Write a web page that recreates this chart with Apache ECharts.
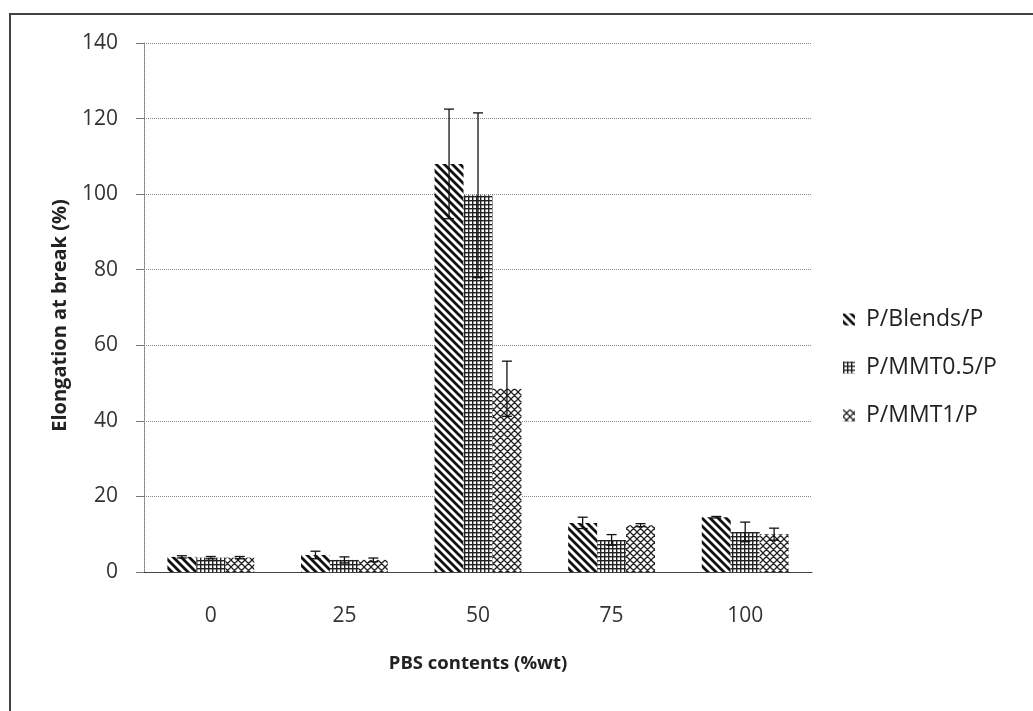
<!DOCTYPE html>
<html>
<head>
<meta charset="utf-8">
<script src="https://cdn.jsdelivr.net/npm/echarts@6/dist/echarts.min.js"></script>
<style>
html,body{margin:0;padding:0;background:#fff;}
#chart{width:1033px;height:711px;}
</style>
</head>
<body>
<div id="chart"></div>
<script>
// ---- data ----
const categories = ['0', '25', '50', '75', '100'];
const seriesNames = ['P/Blends/P', 'P/MMT0.5/P', 'P/MMT1/P'];
const blends = [4.0, 4.5, 108, 13.0, 14.5];
const mmt05 = [3.8, 3.2, 99.7, 8.5, 10.6];
const mmt1 = [3.8, 3.2, 48.5, 12.4, 10.0];
const errBlends = [0.3, 1.0, 14.5, 1.5, 0.2];
const errMmt05 = [0.3, 0.8, 21.8, 1.4, 2.6];
const errMmt1 = [0.3, 0.5, 7.3, 0.4, 1.6];
const yTicks = [0, 20, 40, 60, 80, 100, 120, 140];

// ---- patterns ----
function makePattern(kind) {
  const c = document.createElement('canvas');
  let s;
  if (kind === 'hatch') {
    s = 8; c.width = s; c.height = s;
    const ctx = c.getContext('2d');
    ctx.fillStyle = '#fff'; ctx.fillRect(0, 0, s, s);
    ctx.strokeStyle = '#111'; ctx.lineWidth = 2.8;
    ctx.beginPath();
    for (let k = -1; k <= 1; k++) {
      ctx.moveTo(k * s - 2, -2); ctx.lineTo(k * s + s + 2, s + 2);
    }
    ctx.stroke();
  } else if (kind === 'grid') {
    s = 4; c.width = s; c.height = s;
    const ctx = c.getContext('2d');
    ctx.fillStyle = '#fff'; ctx.fillRect(0, 0, s, s);
    ctx.fillStyle = '#222';
    ctx.fillRect(0, 0, s, 1.4);
    ctx.fillRect(0, 0, 1.4, s);
  } else {
    s = 7; c.width = s; c.height = s;
    const ctx = c.getContext('2d');
    ctx.fillStyle = '#fff'; ctx.fillRect(0, 0, s, s);
    ctx.strokeStyle = '#222'; ctx.lineWidth = 1.3;
    ctx.beginPath();
    for (let k = -1; k <= 1; k++) {
      ctx.moveTo(k * s - 1, -1); ctx.lineTo(k * s + s + 1, s + 1);
      ctx.moveTo(k * s - 1, s + 1); ctx.lineTo(k * s + s + 1, -1);
    }
    ctx.stroke();
  }
  return { image: c, repeat: 'repeat' };
}
const patterns = [makePattern('hatch'), makePattern('grid'), makePattern('cross')];

const values = [blends, mmt05, mmt1];
const errs = [errBlends, errMmt05, errMmt1];
const catGapRatio = 0.35;

const font = 'Open Sans';
const chart = echarts.init(document.getElementById('chart'));

const barSeries = values.map((v, i) => ({
  name: seriesNames[i],
  type: 'bar',
  data: v,
  barGap: '0%',
  barCategoryGap: '35%',
  itemStyle: { color: patterns[i] },
  z: 2
}));

const errSeries = errs.map((e, i) => ({
  type: 'custom',
  name: 'err' + i,
  z: 5,
  silent: true,
  data: values[i].map((v, j) => [j, v, e[j]]),
  renderItem: function (params, api) {
    const idx = api.value(0), val = api.value(1), err = api.value(2);
    const c = api.coord([idx, val]);
    const cw = api.size([1, 0])[0];
    const bw = cw * (1 - catGapRatio) / 3;
    const x = c[0] + (i - 1) * bw;
    const top = api.coord([idx, val + err])[1];
    const bot = api.coord([idx, val - err])[1];
    const hw = 5;
    const st = { stroke: '#111', lineWidth: 1.3 };
    return {
      type: 'group',
      children: [
        { type: 'line', shape: { x1: x, y1: top, x2: x, y2: bot }, style: st },
        { type: 'line', shape: { x1: x - hw, y1: top, x2: x + hw, y2: top }, style: st },
        { type: 'line', shape: { x1: x - hw, y1: bot, x2: x + hw, y2: bot }, style: st }
      ]
    };
  }
}));

chart.setOption({
  animation: false,
  backgroundColor: '#fff',
  textStyle: { fontFamily: font },
  graphic: [{
    type: 'rect',
    shape: { x: 10, y: 14, width: 1100, height: 800 },
    style: { fill: 'none', stroke: '#444', lineWidth: 2 },
    silent: true
  }],
  grid: { left: 144, top: 43, right: 221, bottom: 139 },
  legend: {
    orient: 'vertical',
    left: 838,
    top: 303,
    icon: 'rect',
    itemWidth: 12,
    itemHeight: 12,
    itemGap: 25,
    data: seriesNames,
    textStyle: { fontFamily: font, fontSize: 23, color: '#222', padding: [0, 0, 0, 6] }
  },
  xAxis: {
    type: 'category',
    data: categories,
    name: 'PBS contents (%wt)',
    nameLocation: 'middle',
    nameGap: 82,
    nameTextStyle: { fontFamily: font, fontSize: 18.5, fontWeight: 'bold', color: '#222' },
    axisLine: { lineStyle: { color: '#444', width: 1.2 } },
    axisTick: { show: false },
    axisLabel: { margin: 34, fontSize: 21, color: '#333', fontFamily: font }
  },
  yAxis: {
    type: 'value',
    min: 0,
    max: 140,
    interval: 20,
    name: 'Elongation at break (%)',
    nameLocation: 'middle',
    nameGap: 74,
    nameTextStyle: { fontFamily: font, fontSize: 20, fontWeight: 'bold', color: '#222', padding: [0, 0, 0, -16] },
    axisLine: { show: true, lineStyle: { color: '#777', type: 'dotted', width: 1 } },
    axisTick: { show: true, length: 8, lineStyle: { color: '#777' } },
    axisLabel: {
      margin: 26, fontSize: 21, color: '#333', fontFamily: font,
      formatter: v => (yTicks.indexOf(v) >= 0 ? String(v) : '')
    },
    splitLine: { lineStyle: { color: '#888', type: 'dotted', width: 1 } }
  },
  series: barSeries.concat(errSeries)
});
</script>
</body>
</html>
